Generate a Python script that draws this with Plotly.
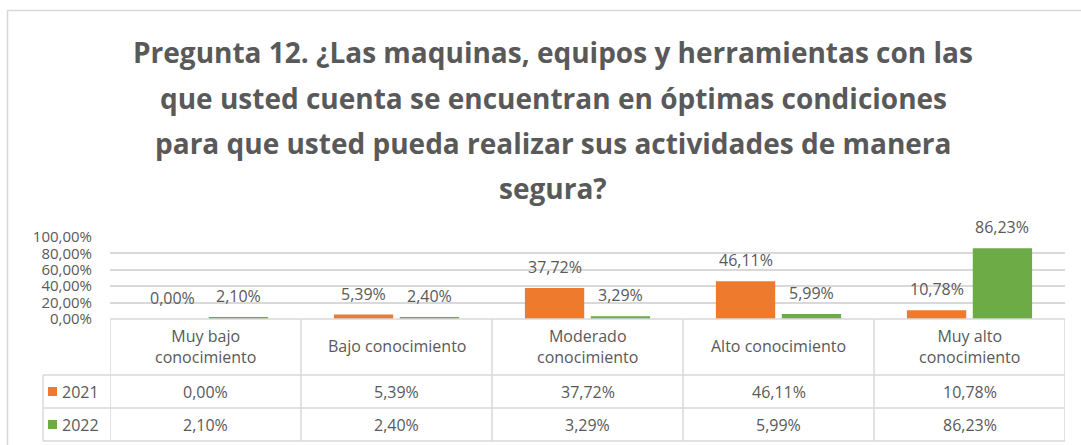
import plotly.graph_objects as go

# Survey results by knowledge level
categorias = ["Muy bajo conocimiento", "Bajo conocimiento", "Moderado conocimiento",
              "Alto conocimiento", "Muy alto conocimiento"]
encabezados = ["Muy bajo<br>conocimiento", "Bajo conocimiento", "Moderado<br>conocimiento",
               "Alto conocimiento", "Muy alto<br>conocimiento"]
serie_2021 = [0.00, 5.39, 37.72, 46.11, 10.78]
serie_2022 = [2.10, 2.40, 3.29, 5.99, 86.23]
ticks_y = [0, 20, 40, 60, 80, 100]
ticks_y_txt = ["0,00%", "20,00%", "40,00%", "60,00%", "80,00%", "100,00%"]
titulo = ["Pregunta 12. ¿Las maquinas, equipos y herramientas con las",
          "que usted cuenta se encuentran en óptimas condiciones",
          "para que usted pueda realizar sus actividades de manera",
          "segura?"]

NARANJA = "#EE7A2E"
VERDE = "#6CAB45"
GRIS = "#595959"
LINEA = "#D9D9D9"
FONT = "Open Sans"

W, H = 1081, 445
L, R_PX, T_PX, B_PX = 110, 1065, 237, 319  # plot area in pixels
BARGAP, GROUPGAP = 0.31, 0.1
SLOT = (1 - BARGAP) / 2  # width of each bar slot within a category


def pct(v):
    return f"{v:.2f}%".replace(".", ",")


def px_x(p):
    return (p - L) / (R_PX - L)


def px_y(p):
    return (B_PX - p) / (B_PX - T_PX)


def texto(x, y, t, xref="x", yref="paper", size=16, xanchor="center", bold=False, yshift=0):
    return dict(x=x, y=y, xref=xref, yref=yref, text=f"<b>{t}</b>" if bold else t,
                showarrow=False, xanchor=xanchor, yanchor="middle", yshift=yshift,
                font=dict(family=FONT, size=size, color=GRIS))


fig = go.Figure()
shapes = []
annotations = []

series = [("2021", serie_2021, NARANJA, -SLOT / 2), ("2022", serie_2022, VERDE, SLOT / 2)]
for nombre, vals, color, desp in series:
    fig.add_trace(go.Bar(
        x=list(range(len(categorias))), y=vals, name=nombre,
        marker=dict(color=color, line=dict(width=0)),
        hovertext=categorias,
    ))
    # Value labels above each bar
    for i, v in enumerate(vals):
        annotations.append(texto(i + desp, v, pct(v), yref="y", yshift=21))

# Outer chart frame
shapes.append(dict(type="rect", xref="paper", yref="paper",
                   x0=px_x(7.5), x1=px_x(1100), y0=px_y(10.5), y1=px_y(460),
                   line=dict(color="#D9D9D9", width=1.5), layer="below"))

# Data table rows (pixel boundaries converted to paper units)
y_top = px_y(319)
y_r1 = px_y(375)
y_r2 = px_y(408)
y_bot = px_y(441)
x_leg = px_x(43)

for y in [y_r1, y_r2, y_bot]:
    shapes.append(dict(type="line", xref="paper", yref="paper", x0=x_leg, x1=1,
                       y0=y, y1=y, line=dict(color=LINEA, width=1.5)))
shapes.append(dict(type="line", xref="paper", yref="paper", x0=0, x1=1,
                   y0=y_top, y1=y_top, line=dict(color=LINEA, width=1.5)))
shapes.append(dict(type="line", xref="paper", yref="paper", x0=x_leg, x1=x_leg,
                   y0=y_r1, y1=y_bot, line=dict(color=LINEA, width=1.5)))
for i in range(len(categorias) + 1):
    shapes.append(dict(type="line", xref="x", yref="paper", x0=i - 0.5, x1=i - 0.5,
                       y0=y_top, y1=y_bot, line=dict(color=LINEA, width=1.5)))

y_head = px_y(346)
y_t1 = px_y(391.5)
y_t2 = px_y(424.5)
for i, enc in enumerate(encabezados):
    annotations.append(texto(i, y_head, enc))
    annotations.append(texto(i, y_t1, pct(serie_2021[i])))
    annotations.append(texto(i, y_t2, pct(serie_2022[i])))

# Legend keys inside the table
for nombre, color, yc in [("2021", NARANJA, 391.5), ("2022", VERDE, 424.5)]:
    shapes.append(dict(type="rect", xref="paper", yref="paper",
                       x0=px_x(48), x1=px_x(57), y0=px_y(yc - 4.5), y1=px_y(yc + 4.5),
                       fillcolor=color, line=dict(width=0)))
    annotations.append(texto(px_x(60), px_y(yc), nombre, xref="paper", xanchor="left"))

# Title lines
for linea, yc in zip(titulo, [52, 98, 143, 188]):
    annotations.append(texto(px_x(553), px_y(yc), linea, xref="paper", size=28, bold=True))

fig.update_layout(
    width=W, height=H,
    margin=dict(l=L, r=W - R_PX, t=T_PX, b=H - B_PX, pad=0),
    paper_bgcolor="white", plot_bgcolor="white",
    showlegend=False, separators=",.",
    barmode="group", bargap=BARGAP, bargroupgap=GROUPGAP,
    xaxis=dict(range=[-0.5, 4.5], showticklabels=False, showgrid=False,
               zeroline=False, showline=False, fixedrange=True),
    yaxis=dict(range=[0, 100], tickvals=ticks_y, ticktext=ticks_y_txt,
               tickfont=dict(family=FONT, size=15, color=GRIS),
               showgrid=True, gridcolor=LINEA, gridwidth=1.5,
               zeroline=False, showline=False, ticklabelstandoff=17,
               fixedrange=True),
    shapes=shapes, annotations=annotations,
)

fig.write_html("out.html")
